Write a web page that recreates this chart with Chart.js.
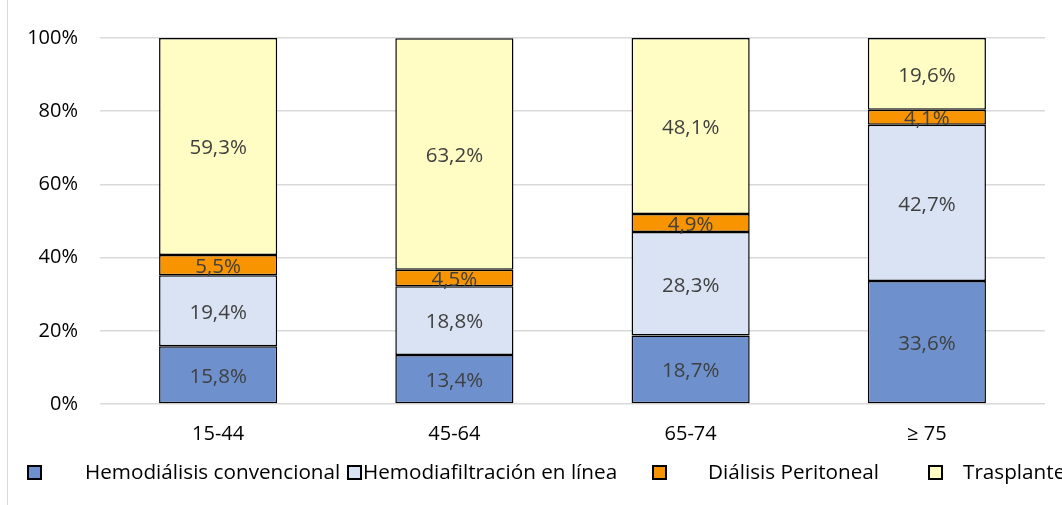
<!DOCTYPE html>
<html>
<head>
<meta charset="utf-8">
<script src="https://cdn.jsdelivr.net/npm/chart.js@4/dist/chart.umd.min.js"></script>
<style>
  html, body { margin: 0; padding: 0; background: #fff; }
  #wrap { position: relative; width: 1062px; height: 505px; overflow: hidden; }
  #wrap:before { content: ""; position: absolute; left: 7px; top: 0; bottom: 0; border-left: 1px solid #d9d9d9; }
  .lg { position: absolute; top: 458px; font: 20.7px "Open Sans", sans-serif; color: #000; white-space: nowrap; line-height: 26px; }
  .box { position: absolute; top: 465px; width: 11px; height: 11px; border: 2px solid #000; }
</style>
</head>
<body>
<div id="wrap">
  <canvas id="chart" width="1062" height="505"></canvas>
</div>
<script>
const categories = ["15-44", "45-64", "65-74", "\u2265 75"];
const seriesNames = ["Hemodiálisis convencional", "Hemodiafiltración en línea", "Diálisis Peritoneal", "Trasplante"];
const hdConv = [15.8, 13.4, 18.7, 33.6];
const hdfOnline = [19.4, 18.8, 28.3, 42.7];
const dialPerit = [5.5, 4.5, 4.9, 4.1];
const trasplante = [59.3, 63.2, 48.1, 19.6];
const yTicks = [0, 20, 40, 60, 80, 100];

const colors = ["#6e91ce", "#dae3f3", "#f79400", "#fffcc4"];
const legendBoxX = [27, 347, 652, 928];
const legendTextX = [85, 363, 708, 963];
const fontFamily = "'Open Sans', sans-serif";

const seriesData = [hdConv, hdfOnline, dialPerit, trasplante];

// etiquetas de valor centradas en cada segmento
const valueLabels = {
  id: "valueLabels",
  afterDatasetsDraw(chart) {
    const ctx = chart.ctx;
    ctx.save();
    ctx.font = "20.5px " + fontFamily;
    ctx.fillStyle = "#404040";
    ctx.textAlign = "center";
    ctx.textBaseline = "middle";
    chart.data.datasets.forEach((ds, i) => {
      chart.getDatasetMeta(i).data.forEach((bar, j) => {
        const yMid = (bar.y + bar.base) / 2;
        ctx.fillText(ds.data[j].toFixed(1).replace(".", ",") + "%", bar.x, yMid + 2);
      });
    });
    ctx.restore();
  }
};

new Chart(document.getElementById("chart"), {
  type: "bar",
  data: {
    labels: categories,
    datasets: seriesNames.map((name, i) => ({
      label: name,
      data: seriesData[i],
      backgroundColor: colors[i],
      borderColor: "#000",
      borderWidth: 1.5,
      borderSkipped: false,
      barPercentage: 0.5,
      categoryPercentage: 1
    }))
  },
  options: {
    responsive: false,
    animation: false,
    layout: { padding: { left: 0, right: 17, top: 38, bottom: 60 } },
    plugins: { legend: { display: false }, tooltip: { enabled: false } },
    scales: {
      x: {
        stacked: true,
        grid: { display: false, drawTicks: false },
        border: { display: false },
        ticks: { color: "#000", font: { family: fontFamily, size: 20 }, padding: 18 },
        afterFit: s => { s.height = 41; }
      },
      y: {
        stacked: true,
        min: 0,
        max: 100,
        afterBuildTicks: s => { s.ticks = yTicks.map(v => ({ value: v })); },
        grid: { color: "#d9d9d9", lineWidth: 1.5, drawTicks: false },
        border: { display: false },
        ticks: {
          color: "#000",
          font: { family: fontFamily, size: 20 },
          padding: 22,
          callback: v => v + "%"
        },
        afterFit: s => { s.width = 100; }
      }
    }
  },
  plugins: [valueLabels]
});

// leyenda
const wrap = document.getElementById("wrap");
seriesNames.forEach((name, i) => {
  const b = document.createElement("div");
  b.className = "box";
  b.style.left = legendBoxX[i] + "px";
  b.style.background = colors[i];
  wrap.appendChild(b);
  const t = document.createElement("div");
  t.className = "lg";
  t.style.left = legendTextX[i] + "px";
  t.textContent = name;
  wrap.appendChild(t);
});
</script>
</body>
</html>
